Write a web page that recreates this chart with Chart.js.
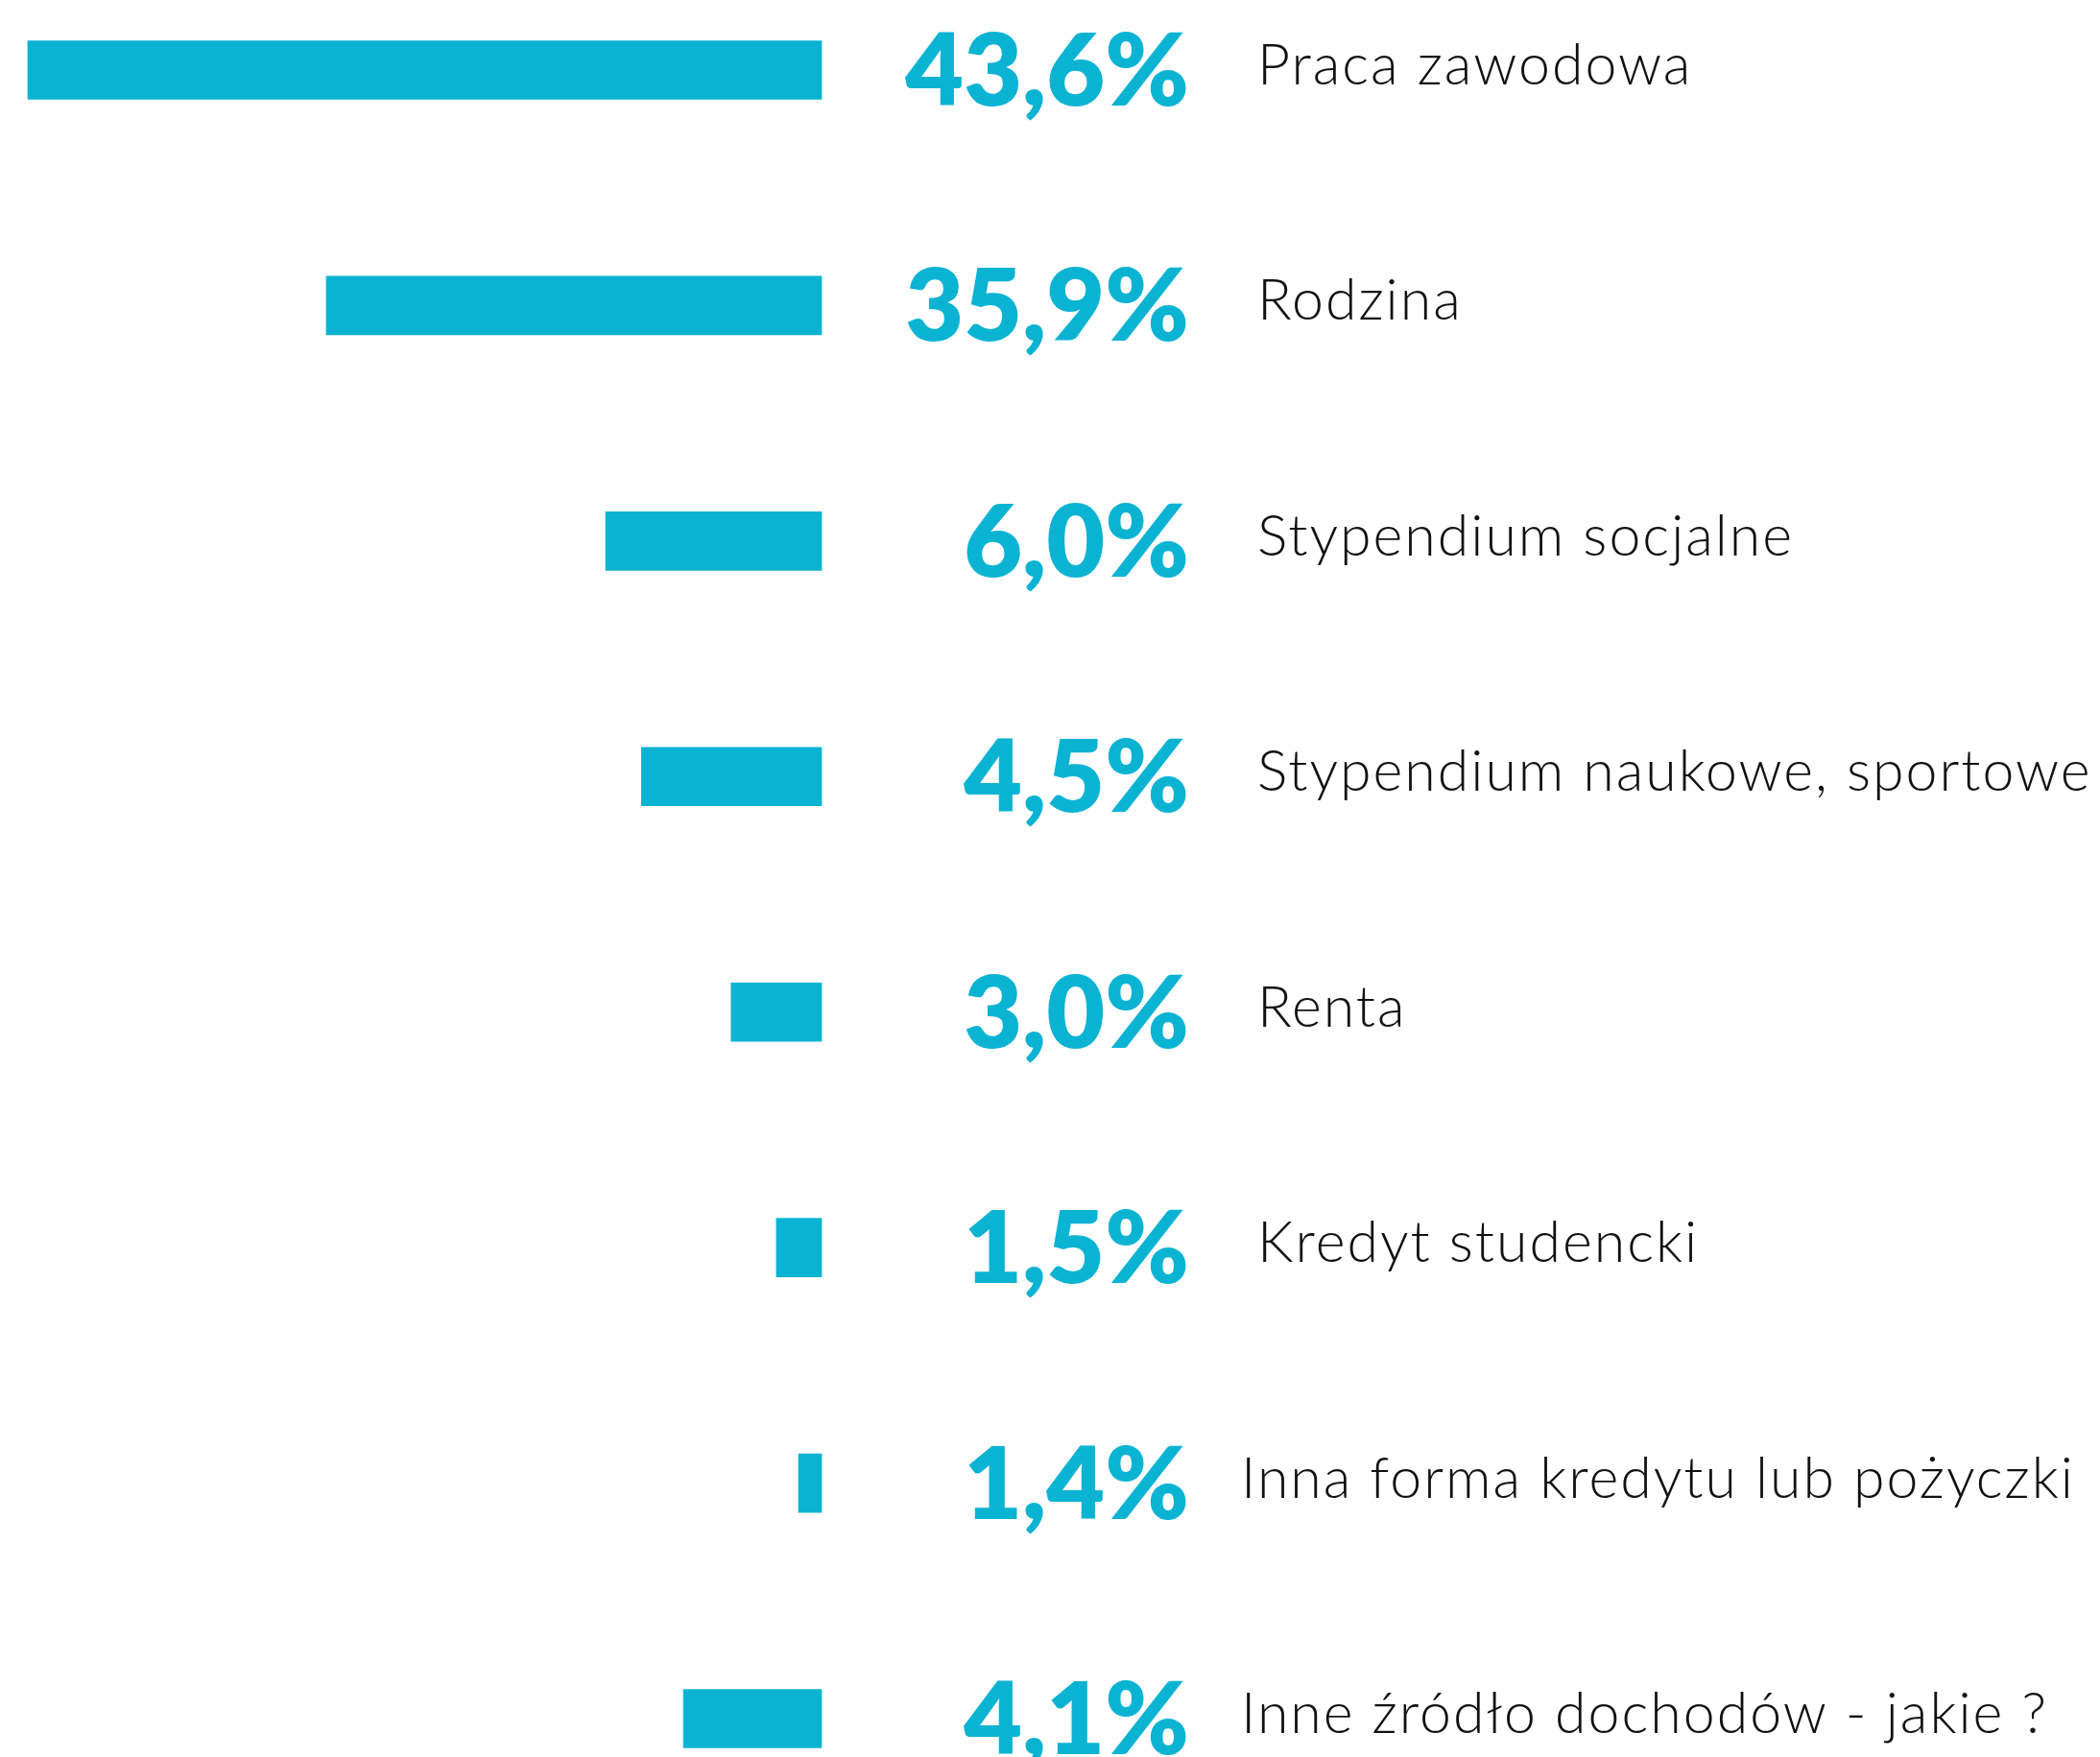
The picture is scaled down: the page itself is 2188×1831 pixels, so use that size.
<!DOCTYPE html>
<html lang="pl">
<head>
<meta charset="utf-8">
<title>Źródła dochodów</title>
<script src="https://cdn.jsdelivr.net/npm/chart.js@4.4.1/dist/chart.umd.min.js"></script>
<style>
    html, body { margin: 0; padding: 0; background: #fff; }
    #wrap { width: 2188px; height: 1831px; position: relative; }
</style>
</head>
<body>
<div id="wrap"><canvas id="incomeChart"></canvas></div>
<script>
// Categories and their reported shares (%)
const categories = [
    'Praca zawodowa',
    'Rodzina',
    'Stypendium socjalne',
    'Stypendium naukowe, sportowe',
    'Renta',
    'Kredyt studencki',
    'Inna forma kredytu lub pożyczki',
    'Inne źródło dochodów - jakie ?'
];
const shares = [43.6, 35.9, 6.0, 4.5, 3.0, 1.5, 1.4, 4.1];

// Bar lengths as drawn in the source infographic (longest = 100);
// the original bars are not proportional to the printed shares.
const barLength = [100, 62.4, 27.2, 22.7, 11.4, 5.7, 2.9, 17.4];

const BLUE = '#0bb3d3';

const labelsPlugin = {
    id: 'rowLabels',
    afterDatasetsDraw(chart) {
        const ctx = chart.ctx;
        const meta = chart.getDatasetMeta(0);
        const right = chart.chartArea.right;
        ctx.save();
        meta.data.forEach((bar, i) => {
            const y = bar.y;
            // percentage
            ctx.font = '800 105px Lato';
            ctx.letterSpacing = '0px';
            ctx.fillStyle = BLUE;
            ctx.textAlign = 'right';
            ctx.textBaseline = 'alphabetic';
            ctx.fillText(shares[i].toFixed(1).replace('.', ',') + '%', right + 383, y + 37);
            // category name (the two longest rows sit a bit further left)
            ctx.font = '300 59px Lato';
            ctx.letterSpacing = '2px';
            ctx.fillStyle = '#111';
            ctx.textAlign = 'left';
            const shift = (i >= 6) ? -17 : 0;
            ctx.fillText(categories[i], right + 454 + shift, y + 15);
        });
        ctx.restore();
    }
};

new Chart(document.getElementById('incomeChart'), {
    type: 'bar',
    data: {
        labels: categories,
        datasets: [{
            data: barLength,
            backgroundColor: BLUE,
            borderWidth: 0,
            barThickness: 61,
            clip: false
        }]
    },
    options: {
        indexAxis: 'y',
        responsive: true,
        maintainAspectRatio: false,
        animation: false,
        devicePixelRatio: 1,
        layout: { padding: { top: 73, bottom: 40, left: 29, right: 1332 } },
        plugins: { legend: { display: false }, tooltip: { enabled: false } },
        scales: {
            x: { display: false, reverse: true, min: 0, max: 100 },
            y: { display: false, offset: false }
        }
    },
    plugins: [labelsPlugin]
});
</script>
</body>
</html>
